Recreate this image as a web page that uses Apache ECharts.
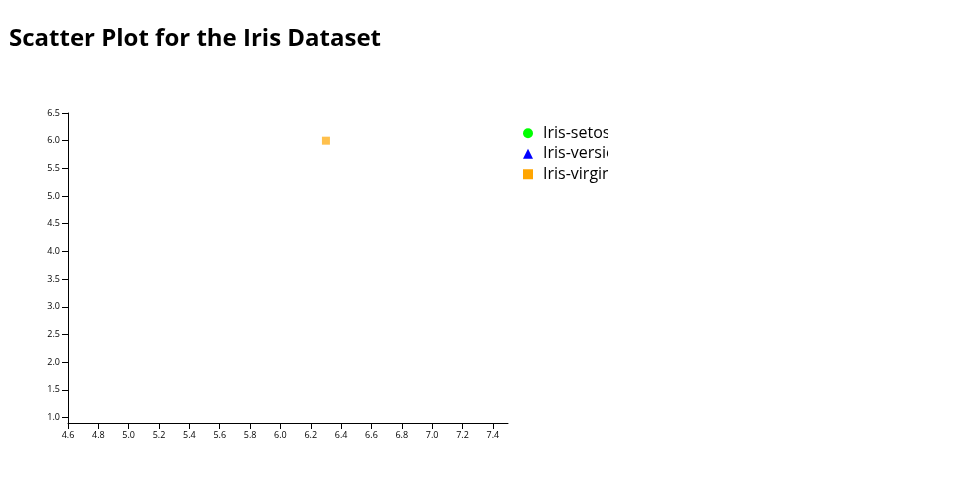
<!DOCTYPE html>
<html>
<head>
<meta charset="utf-8">
<script src="https://cdn.jsdelivr.net/npm/echarts@6/dist/echarts.min.js"></script>
<style>
  html, body { margin: 0; padding: 0; background: #fff; }
  #wrap { width: 960px; height: 500px; }
  #chart { width: 608px; height: 500px; overflow: hidden; }
</style>
</head>
<body>
<div id="wrap"><div id="chart"></div></div>
<script>
// Data
const speciesNames = ['Iris-setosa', 'Iris-versicolor', 'Iris-virginica'];
const setosaPoints = [];            // [sepal length, value]
const versicolorPoints = [];
const virginicaPoints = [[6.3, 6.0]];
const xRange = [4.6, 7.5];
const yRange = [0.9, 6.5];

const colors = ['#00ff00', '#0000ff', '#ffa500'];
const symbols = ['circle', 'triangle', 'rect'];
const seriesData = [setosaPoints, versicolorPoints, virginicaPoints];

const chart = echarts.init(document.getElementById('chart'), null, { renderer: 'canvas' });
const font = '"Open Sans", sans-serif';

chart.setOption({
  animation: false,
  title: {
    text: 'Scatter Plot for the Iris Dataset',
    left: 4, top: 22,
    textStyle: { fontFamily: font, fontWeight: 'bold', fontSize: 24, color: '#000' }
  },
  legend: {
    orient: 'vertical',
    left: 518, top: 118,
    itemWidth: 10, itemHeight: 10, itemGap: 0,
    textStyle: { fontFamily: font, fontSize: 16, color: '#000', lineHeight: 20.5, padding: [0, 0, 0, 5] },
    data: speciesNames.map((n, i) => ({
      name: n, icon: symbols[i],
      itemStyle: { color: colors[i], opacity: 1 }
    }))
  },
  grid: { left: 68, top: 113, width: 440, height: 310, containLabel: false },
  xAxis: {
    type: 'value', min: xRange[0], max: xRange[1],
    minInterval: 0.2, maxInterval: 0.2,
    splitLine: { show: false },
    axisLine: { show: true, lineStyle: { color: '#000', width: 1 } },
    axisTick: { show: true, length: 6, lineStyle: { color: '#000' } },
    axisLabel: { fontFamily: font, fontSize: 9, color: '#000', margin: 8, showMaxLabel: false,
      formatter: v => v.toFixed(1) }
  },
  yAxis: {
    type: 'value', min: yRange[0], max: yRange[1],
    minInterval: 0.5, maxInterval: 0.5,
    splitLine: { show: false },
    axisLine: { show: true, lineStyle: { color: '#000', width: 1 } },
    axisTick: { show: true, length: 6, lineStyle: { color: '#000' } },
    axisLabel: { fontFamily: font, fontSize: 9, color: '#000', margin: 8, showMinLabel: false,
      formatter: v => v.toFixed(1) }
  },
  series: speciesNames.map((n, i) => ({
    name: n, type: 'scatter',
    symbol: symbols[i], symbolSize: 8,
    itemStyle: { color: colors[i], opacity: 0.7 },
    data: seriesData[i]
  }))
});
</script>
</body>
</html>
